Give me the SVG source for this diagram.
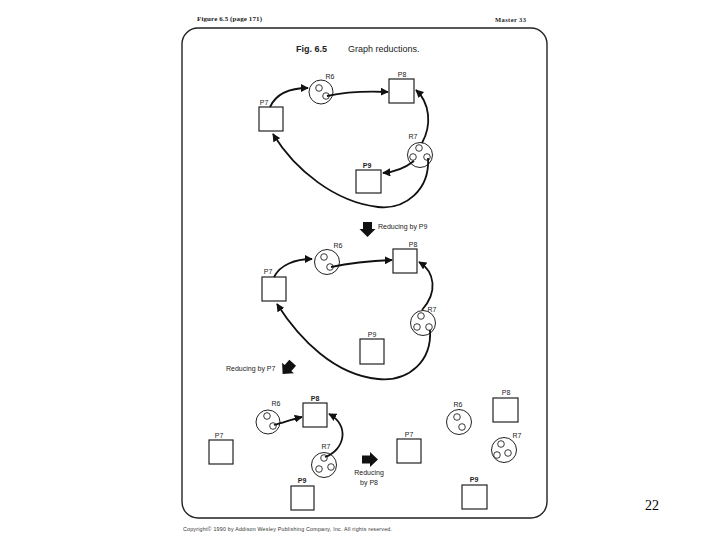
<svg xmlns="http://www.w3.org/2000/svg" width="720" height="540" viewBox="0 0 720 540">
<defs>
<marker id="ah" viewBox="0 0 10 10" refX="9" refY="5" markerWidth="4.5" markerHeight="4.5" orient="auto" markerUnits="strokeWidth">
<path d="M0,0 L10,5 L0,10 z" fill="#111"/>
</marker>
<style>
.box{fill:#fff;stroke:#222;stroke-width:1.2}
.res{fill:#fff;stroke:#222;stroke-width:1}
.dot{fill:#fff;stroke:#222;stroke-width:0.9}
.lbl{font-family:"Liberation Sans",Arial,sans-serif;font-size:7px;fill:#222;text-anchor:middle}
.b{font-weight:bold}
.edge{fill:none;stroke:#111;stroke-width:1.8;marker-end:url(#ah)}
.cap{font-family:"Liberation Sans",Arial,sans-serif;font-size:7px;fill:#222}
.blk{fill:#111}
</style>
</defs>
<rect width="720" height="540" fill="#fff"/>
<g id="page">
<rect x="182" y="28" width="365" height="490" rx="16" ry="16" fill="none" stroke="#222" stroke-width="1.4"/>
<text x="197" y="21" font-family="Liberation Serif,serif" font-size="7" font-weight="bold" fill="#222" textLength="65">Figure 6.5 (page 171)</text>
<text x="495" y="22" font-family="Liberation Serif,serif" font-size="6.5" font-weight="bold" fill="#222" textLength="31">Master 33</text>
<text x="296" y="52" font-family="Liberation Sans,Arial,sans-serif" font-size="9" fill="#222"><tspan font-weight="bold">Fig. 6.5</tspan><tspan x="348">Graph reductions.</tspan></text>
<text x="183" y="531" font-family="Liberation Sans,Arial,sans-serif" font-size="5.3" fill="#333" textLength="209">Copyright© 1990 by Addison Wesley Publishing Company, Inc. All rights reserved.</text>
<text x="652" y="510" font-family="Liberation Serif,serif" font-size="14" fill="#000" text-anchor="middle">22</text>
</g>
<!-- Graph 1 -->
<g id="g1-P7"><rect class="box" x="259" y="107" width="24" height="24"/><text class="lbl" x="264" y="105">P7</text></g>
<g id="g1-R6"><circle class="res" cx="321" cy="92" r="12"/><circle class="dot" cx="319" cy="88" r="3.3"/><circle class="dot" cx="326" cy="96" r="3.3"/><text class="lbl" x="330" y="79">R6</text></g>
<g id="g1-P8"><rect class="box" x="389" y="79" width="25" height="24"/><text class="lbl" x="402" y="77">P8</text></g>
<g id="g1-R7"><circle class="res" cx="420" cy="155" r="12.5"/><circle class="dot" cx="419" cy="148" r="3.3"/><circle class="dot" cx="413" cy="157" r="3.3"/><circle class="dot" cx="427" cy="157" r="3.3"/><text class="lbl" x="413" y="139">R7</text></g>
<g id="g1-P9"><rect class="box" x="356" y="170" width="25" height="23"/><text class="lbl b" x="367" y="168">P9</text></g>
<!-- Graph 2 -->
<g id="g2-P7"><rect class="box" x="262" y="277" width="24" height="24"/><text class="lbl" x="268" y="274">P7</text></g>
<g id="g2-R6"><circle class="res" cx="327" cy="262" r="12.5"/><circle class="dot" cx="324" cy="257" r="3.3"/><circle class="dot" cx="330" cy="267" r="3.3"/><text class="lbl" x="338" y="248">R6</text></g>
<g id="g2-P8"><rect class="box" x="393" y="249" width="24" height="24"/><text class="lbl" x="413" y="247">P8</text></g>
<g id="g2-R7"><circle class="res" cx="423" cy="323" r="12.5"/><circle class="dot" cx="421" cy="316" r="3.3"/><circle class="dot" cx="417" cy="327" r="3.3"/><circle class="dot" cx="429" cy="327" r="3.3"/><text class="lbl" x="432" y="312">R7</text></g>
<g id="g2-P9"><rect class="box" x="360" y="339" width="24" height="25"/><text class="lbl" x="372" y="337">P9</text></g>
<!-- Graph 3 -->
<g id="g3-R6"><circle class="res" cx="268" cy="422" r="12"/><circle class="dot" cx="267" cy="416" r="3.3"/><circle class="dot" cx="273" cy="426" r="3.3"/><text class="lbl" x="276" y="406">R6</text></g>
<g id="g3-P8"><rect class="box" x="303" y="403" width="24" height="24"/><text class="lbl b" x="315" y="401">P8</text></g>
<g id="g3-P7"><rect class="box" x="209" y="440" width="24" height="24"/><text class="lbl" x="219" y="438">P7</text></g>
<g id="g3-R7"><circle class="res" cx="324" cy="465" r="12.5"/><circle class="dot" cx="324" cy="458" r="3.3"/><circle class="dot" cx="319" cy="469" r="3.3"/><circle class="dot" cx="331" cy="467" r="3.3"/><text class="lbl" x="326" y="449">R7</text></g>
<g id="g3-P9"><rect class="box" x="291" y="486" width="23" height="24"/><text class="lbl b" x="302" y="483">P9</text></g>
<!-- Graph 4 -->
<g id="g4-R6"><circle class="res" cx="459" cy="422" r="12.5"/><circle class="dot" cx="457" cy="417" r="3.3"/><circle class="dot" cx="462" cy="427" r="3.3"/><text class="lbl" x="458" y="407">R6</text></g>
<g id="g4-P8"><rect class="box" x="493" y="398" width="25" height="24"/><text class="lbl" x="506" y="395">P8</text></g>
<g id="g4-P7"><rect class="box" x="397" y="439" width="24" height="24"/><text class="lbl" x="409" y="437">P7</text></g>
<g id="g4-R7"><circle class="res" cx="504" cy="450" r="12.5"/><circle class="dot" cx="501" cy="444" r="3.3"/><circle class="dot" cx="497" cy="455" r="3.3"/><circle class="dot" cx="508" cy="453" r="3.3"/><text class="lbl" x="517" y="438">R7</text></g>
<g id="g4-P9"><rect class="box" x="462" y="485" width="25" height="24"/><text class="lbl b" x="474" y="482">P9</text></g>
<!-- reduction steps -->
<g id="step1"><polygon class="blk" points="363,222 372,222 372,229 375.5,229 367.5,237 359.5,229 363,229"/><text class="cap" x="378" y="229">Reducing by P9</text></g>
<g id="step2"><polygon class="blk" transform="translate(288,368) rotate(42)" points="-4.5,-7 4.5,-7 4.5,0 8,0 0,8 -8,0 -4.5,0"/><text class="cap" x="226" y="371">Reducing by P7</text></g>
<g id="step3"><polygon class="blk" points="362,455.5 370,455.5 370,452 378,459.5 370,467 370,463.5 362,463.5"/><text class="cap" x="369" y="475" text-anchor="middle">Reducing</text><text class="cap" x="369" y="485" text-anchor="middle">by P8</text></g>
<g id="connectors">
<path class="edge" d="M270,107 C276,94 290,88 308,88"/>
<path class="edge" d="M327,96 C345,92 365,91 388,92"/>
<path class="edge" d="M422,143 C432,125 430,103 416,90"/>
<path class="edge" d="M414,161 C405,168 395,172 383,173"/>
<path class="edge" d="M428,158 C430,190 405,210 378,207 C335,202 295,170 273,134"/>
<path class="edge" d="M274,277 C280,265 295,259 312,259"/>
<path class="edge" d="M331,267 C350,263 370,261 392,260"/>
<path class="edge" d="M422,310 C438,292 435,272 419,262"/>
<path class="edge" d="M430,330 C432,360 410,382 378,379 C335,375 300,340 277,304"/>
<path class="edge" d="M274,425 C285,422 293,419 302,417"/>
<path class="edge" d="M325,457 C345,450 350,425 329,414"/>
</g>
</svg>
